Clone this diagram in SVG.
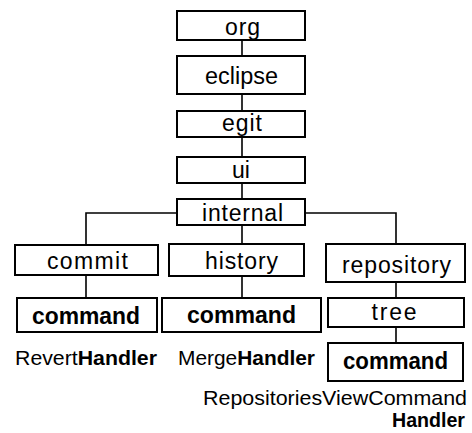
<svg xmlns="http://www.w3.org/2000/svg" width="472" height="433" viewBox="0 0 472 433">
  <style>
    .box { fill: #ffffff; stroke: #000000; stroke-width: 2; }
    .lbl { font-family: "Liberation Sans", Arial, sans-serif; font-size: 23px; fill: #000000; text-anchor: middle; }
    .cmd { font-family: "Liberation Sans", Arial, sans-serif; font-size: 23px; font-weight: bold; fill: #000000; text-anchor: middle; }
    .cls { font-family: "Liberation Sans", Arial, sans-serif; font-size: 21px; fill: #000000; }
    .b { font-weight: bold; }
    .wire { fill: none; stroke: #000000; stroke-width: 1.6; }
  </style>

  <!-- package tree connectors -->
  <g id="connectors">
    <path class="wire" d="M242 40 V56 M242 94 V111 M242 137 V157 M242 183 V199 M242 225 V244"/>
    <path class="wire" d="M177 213 H86 V245 M305 213 H396 V244"/>
    <path class="wire" d="M86 275 V298 M242 276 V298 M396 282 V298 M396 327 V343"/>
  </g>

  <g id="org">
    <rect class="box" x="177" y="11" width="128" height="29"/>
    <text class="lbl" x="242.5" y="35" textLength="35" lengthAdjust="spacing">org</text>
  </g>
  <g id="eclipse">
    <rect class="box" x="177" y="56" width="128" height="38"/>
    <text class="lbl" x="241.5" y="84" textLength="73" lengthAdjust="spacingAndGlyphs">eclipse</text>
  </g>
  <g id="egit">
    <rect class="box" x="177" y="111" width="128" height="26"/>
    <text class="lbl" x="242" y="131" textLength="40" lengthAdjust="spacing">egit</text>
  </g>
  <g id="ui">
    <rect class="box" x="177" y="157" width="128" height="26"/>
    <text class="lbl" x="241" y="178">ui</text>
  </g>
  <g id="internal">
    <rect class="box" x="177" y="199" width="128" height="26"/>
    <text class="lbl" x="242.5" y="221" textLength="81" lengthAdjust="spacing">internal</text>
  </g>

  <g id="commit">
    <rect class="box" x="15" y="245" width="143" height="30"/>
    <text class="lbl" x="87.5" y="269" textLength="81" lengthAdjust="spacing">commit</text>
  </g>
  <g id="history">
    <rect class="box" x="169" y="244" width="135" height="32"/>
    <text class="lbl" x="241.5" y="269" textLength="73" lengthAdjust="spacing">history</text>
  </g>
  <g id="repository">
    <rect class="box" x="326" y="244" width="139" height="38"/>
    <text class="lbl" x="396.5" y="273" textLength="109" lengthAdjust="spacing">repository</text>
  </g>

  <g id="commit-command">
    <rect class="box" x="17" y="298" width="140" height="34"/>
    <text class="cmd" x="86" y="324" textLength="108" lengthAdjust="spacingAndGlyphs">command</text>
  </g>
  <g id="history-command">
    <rect class="box" x="162" y="298" width="159" height="34"/>
    <text class="cmd" x="241.5" y="323" textLength="109" lengthAdjust="spacingAndGlyphs">command</text>
  </g>
  <g id="tree">
    <rect class="box" x="328" y="298" width="136" height="29"/>
    <text class="lbl" x="394" y="320" textLength="45" lengthAdjust="spacing">tree</text>
  </g>
  <g id="tree-command">
    <rect class="box" x="328" y="343" width="135" height="38"/>
    <text class="cmd" x="395.5" y="369" textLength="105" lengthAdjust="spacingAndGlyphs">command</text>
  </g>

  <!-- handler class names -->
  <g id="revert-handler">
    <text class="cls" x="15" y="365" textLength="142" lengthAdjust="spacingAndGlyphs">Revert<tspan class="b">Handler</tspan></text>
  </g>
  <g id="merge-handler">
    <text class="cls" x="178" y="365" textLength="137" lengthAdjust="spacingAndGlyphs">Merge<tspan class="b">Handler</tspan></text>
  </g>
  <g id="repositories-view-command-handler">
    <text class="cls" x="203" y="405" textLength="264" lengthAdjust="spacingAndGlyphs">RepositoriesViewCommand</text>
    <text class="cls b" x="392" y="427" textLength="73" lengthAdjust="spacingAndGlyphs">Handler</text>
  </g>
</svg>
